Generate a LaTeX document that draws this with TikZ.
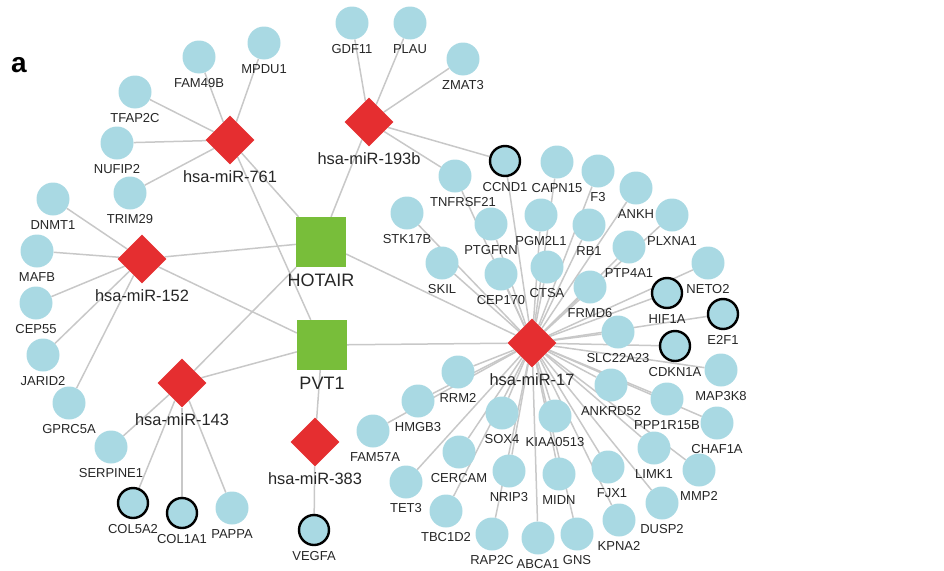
\documentclass[tikz,border=0pt]{standalone}
\usepackage{fontspec}
\setmainfont{Liberation Sans}
\usetikzlibrary{shapes.geometric}
\definecolor{cblue}{RGB}{169,217,227}
\definecolor{cred}{RGB}{229,46,48}
\definecolor{cgreen}{RGB}{120,190,58}
\definecolor{cedge}{RGB}{200,200,200}
\pgfdeclarelayer{bg}
\pgfsetlayers{bg,main}
\tikzset{
  gene/.style={circle, fill=cblue, draw=none, minimum size=33pt, inner sep=0pt},
  bgene/.style={circle, fill=cblue, draw=black, line width=2.4pt, minimum size=30pt, inner sep=0pt},
  mir/.style={diamond, fill=cred, draw=none, minimum width=49pt, minimum height=49pt, inner sep=0pt},
  lnc/.style={rectangle, fill=cgreen, draw=none, minimum size=50pt, inner sep=0pt},
  glbl/.style={font=\fontsize{13}{13}\selectfont, anchor=base, inner sep=0pt, text=black!85},
  mlbl/.style={font=\fontsize{16.4}{16.4}\selectfont, anchor=base, inner sep=0pt, text=black!85},
  llbl/.style={font=\fontsize{18}{18}\selectfont, anchor=base, inner sep=0pt, text=black!85},
  edge/.style={draw=cedge, line width=1.5pt},
}
\newcommand\gnode[5][0]{%
  \node[gene] (#2) at (#3,#4) {};
  \node[glbl] (#2-l) at ({#3+#1},{#4+30.5}) {#5};}
\newcommand\bgnode[5][0]{%
  \node[bgene] (#2) at (#3,#4) {};
  \node[glbl] (#2-l) at ({#3+#1},{#4+30.5}) {#5};}
\newcommand\mnode[4]{%
  \node[mir] (#1) at (#2,#3) {};
  \node[mlbl] (#1-l) at (#2,{#3+42.5}) {#4};}
\begin{document}
\begin{tikzpicture}[x=1pt,y=-1pt]
\useasboundingbox (0,0) rectangle (944,570);
\node[font=\bfseries\fontsize{28}{28}\selectfont, anchor=base west, inner sep=0pt] (panel) at (11,72) {a};
% lncRNAs
\node[lnc] (HOTAIR) at (321,242) {};
\node[llbl] (HOTAIR-l) at (321,286.5) {HOTAIR};
\node[lnc] (PVT1) at (322,345) {};
\node[llbl] (PVT1-l) at (322,389.5) {PVT1};
% miRNAs
\mnode{m761}{230}{140}{hsa-miR-761}
\mnode{m193}{369}{122}{hsa-miR-193b}
\mnode{m152}{142}{259}{hsa-miR-152}
\mnode{m143}{182}{383}{hsa-miR-143}
\mnode{m383}{315}{442}{hsa-miR-383}
\mnode{m17}{532}{343}{hsa-miR-17}
% miR-761 targets
\gnode{FAM49B}{199}{57}{FAM49B}
\gnode{MPDU1}{264}{43}{MPDU1}
\gnode{TFAP2C}{135}{92}{TFAP2C}
\gnode{NUFIP2}{117}{143}{NUFIP2}
\gnode{TRIM29}{130}{193}{TRIM29}
% miR-193b targets
\gnode{GDF11}{352}{23}{GDF11}
\gnode{PLAU}{410}{23}{PLAU}
\gnode{ZMAT3}{463}{59}{ZMAT3}
\bgnode{CCND1}{505}{161}{CCND1}
\gnode[8]{TNFRSF21}{455}{176}{TNFRSF21}
% miR-152 targets
\gnode{DNMT1}{53}{199}{DNMT1}
\gnode{MAFB}{37}{251}{MAFB}
\gnode{CEP55}{36}{303}{CEP55}
\gnode{JARID2}{43}{355}{JARID2}
\gnode{GPRC5A}{69}{403}{GPRC5A}
% miR-143 targets
\gnode{SERPINE1}{111}{447}{SERPINE1}
\bgnode{COL5A2}{133}{503}{COL5A2}
\bgnode{COL1A1}{182}{513}{COL1A1}
\gnode{PAPPA}{232}{508}{PAPPA}
% miR-383 target
\bgnode{VEGFA}{314}{530}{VEGFA}
% miR-17 targets
\gnode{CAPN15}{557}{162}{CAPN15}
\gnode{F3}{598}{171}{F3}
\gnode{ANKH}{636}{188}{ANKH}
\gnode{PLXNA1}{672}{215}{PLXNA1}
\gnode{NETO2}{708}{263}{NETO2}
\bgnode{HIF1A}{667}{293}{HIF1A}
\bgnode{E2F1}{723}{314}{E2F1}
\gnode{STK17B}{407}{213}{STK17B}
\gnode{PTGFRN}{491}{224}{PTGFRN}
\gnode{PGM2L1}{541}{215}{PGM2L1}
\gnode{RB1}{589}{225}{RB1}
\gnode{SKIL}{442}{263}{SKIL}
\gnode{CEP170}{501}{274}{CEP170}
\gnode{CTSA}{547}{267}{CTSA}
\gnode{PTP4A1}{629}{247}{PTP4A1}
\gnode{FRMD6}{590}{287}{FRMD6}
\gnode{SLC22A23}{618}{332}{SLC22A23}
\bgnode{CDKN1A}{675}{346}{CDKN1A}
\gnode{MAP3K8}{721}{370}{MAP3K8}
\gnode{RRM2}{458}{372}{RRM2}
\gnode{HMGB3}{418}{401}{HMGB3}
\gnode[2]{FAM57A}{373}{431}{FAM57A}
\gnode{ANKRD52}{611}{385}{ANKRD52}
\gnode{PPP1R15B}{667}{399}{PPP1R15B}
\gnode{CHAF1A}{717}{423}{CHAF1A}
\gnode{SOX4}{502}{413}{SOX4}
\gnode{KIAA0513}{555}{416}{KIAA0513}
\gnode{LIMK1}{654}{448}{LIMK1}
\gnode{CERCAM}{459}{452}{CERCAM}
\gnode{TET3}{406}{482}{TET3}
\gnode{NRIP3}{509}{471}{NRIP3}
\gnode{MIDN}{559}{474}{MIDN}
\gnode[4]{FJX1}{608}{467}{FJX1}
\gnode{MMP2}{699}{470}{MMP2}
\gnode{DUSP2}{662}{503}{DUSP2}
\gnode{TBC1D2}{446}{511}{TBC1D2}
\gnode{KPNA2}{619}{520}{KPNA2}
\gnode{RAP2C}{492}{534}{RAP2C}
\gnode{ABCA1}{538}{538}{ABCA1}
\gnode{GNS}{577}{534}{GNS}
% edges
\begin{pgfonlayer}{bg}
\foreach \a/\b in {m761/FAM49B, m761/MPDU1, m761/TFAP2C, m761/NUFIP2, m761/TRIM29,
  m193/GDF11, m193/PLAU, m193/ZMAT3, m193/CCND1, m193/TNFRSF21,
  m152/DNMT1, m152/MAFB, m152/CEP55, m152/JARID2, m152/GPRC5A,
  m143/SERPINE1, m143/COL5A2, m143/COL1A1, m143/PAPPA,
  m383/VEGFA,
  HOTAIR/m761, HOTAIR/m193, HOTAIR/m152, HOTAIR/m143, HOTAIR/m17,
  PVT1/m761, PVT1/m152, PVT1/m143, PVT1/m17, PVT1/m383}
  \draw[edge] (\a) -- (\b);
\foreach \g in {TNFRSF21, CCND1, CAPN15, F3, ANKH, PLXNA1, NETO2, HIF1A, E2F1,
  STK17B, PTGFRN, PGM2L1, RB1, SKIL, CEP170, CTSA, PTP4A1, FRMD6, SLC22A23,
  CDKN1A, MAP3K8, RRM2, HMGB3, FAM57A, ANKRD52, PPP1R15B, CHAF1A, SOX4,
  KIAA0513, LIMK1, CERCAM, TET3, NRIP3, MIDN, FJX1, MMP2, DUSP2, TBC1D2,
  KPNA2, RAP2C, ABCA1, GNS}
  \draw[edge] (m17) -- (\g);
\end{pgfonlayer}
\end{tikzpicture}
\end{document}
